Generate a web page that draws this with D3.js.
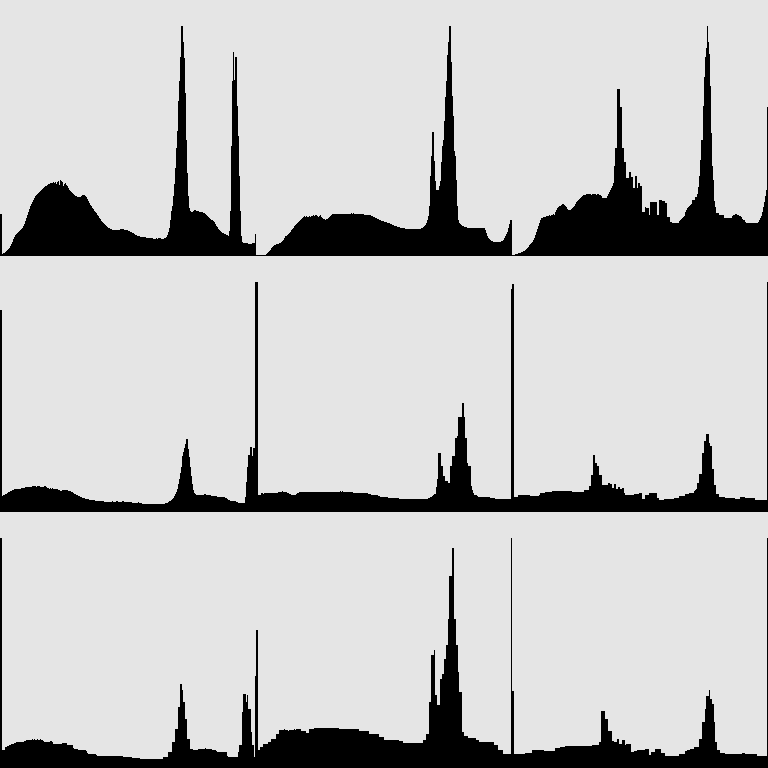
<!DOCTYPE html>
<html>
<head>
<meta charset="utf-8">
<script src="https://cdn.jsdelivr.net/npm/d3@7/dist/d3.min.js"></script>
<style>
html,body{margin:0;padding:0;background:#e5e5e5;}
svg{display:block;}
</style>
</head>
<body>
<svg id="chart" width="768" height="768"></svg>
<script>
// Relative histogram counts, 256 intensity bins per panel
const hist_r0c0 = [
42,42,2,3,3,4,5,6,7,8,
10,12,14,17,19,21,22,23,24,25,
26,27,28,30,32,35,38,41,44,47,
50,52,54,56,58,60,61,62,63,64,
65,66,67,68,69,70,70,71,72,72,
73,73,73,74,73,74,72,74,75,71,
76,75,74,70,72,73,71,70,68,66,
65,64,63,62,61,60,60,59,59,59,
59,60,61,61,61,60,59,57,55,53,
51,50,48,47,45,44,43,41,40,38,
37,35,34,33,32,31,30,29,28,28,
27,27,26,26,26,26,26,26,26,26,
27,27,27,27,26,26,26,26,25,25,
24,24,23,23,22,21,21,20,20,20,
19,19,19,19,19,19,18,18,18,18,
18,18,18,17,17,17,18,17,18,18,
18,17,17,17,18,18,19,21,24,28,
36,45,50,60,72,88,108,125,155,175,
200,231,231,215,199,163,116,83,60,48,
45,44,44,45,46,46,45,45,45,44,
44,44,44,43,43,42,41,40,39,38,
37,36,36,35,34,32,30,29,27,26,
25,24,23,23,22,22,21,21,20,25,
45,110,175,205,176,200,200,150,120,80,
45,20,14,13,13,13,13,13,12,12,
12,12,13,13,13,22];

const hist_r0c1 = [
1,1,1,1,1,1,1,1,1,1,
2,3,4,5,6,8,9,10,11,11,
12,12,12,13,13,14,15,16,18,20,
20,21,22,23,24,26,27,28,30,31,
32,33,34,35,36,37,38,39,40,39,
40,39,39,40,39,40,40,41,40,41,
41,40,39,40,41,39,38,37,37,36,
37,37,38,39,40,41,42,42,42,42,
42,42,42,42,42,42,42,42,42,42,
42,42,42,42,42,43,42,43,42,42,
42,42,42,42,42,42,42,42,41,41,
41,41,41,41,41,40,40,39,39,38,
38,37,37,36,36,35,35,35,34,34,
34,33,33,33,32,32,31,31,30,30,
30,29,29,29,28,28,28,28,28,27,
27,27,27,27,27,27,27,27,27,27,
27,27,27,27,27,28,28,29,30,31,
33,36,40,50,80,100,124,124,95,75,
66,66,66,70,75,94,110,116,135,159,
175,202,215,231,231,195,160,140,105,100,
76,50,36,33,32,31,30,30,29,29,
29,28,28,28,28,28,28,28,28,28,
28,28,28,28,28,28,28,28,28,26,
23,20,18,17,16,15,15,14,14,14,
14,14,14,14,14,15,15,16,18,20,
22,24,28,32,36,36];

const hist_r0c2 = [
1,1,1,2,2,2,3,3,3,4,
4,5,5,6,7,8,9,11,12,13,
14,16,18,21,24,27,30,33,36,38,
38,39,39,39,40,40,40,41,40,41,
41,42,41,44,46,48,49,50,50,51,
52,52,51,50,49,47,46,46,46,47,
48,49,50,52,54,55,56,57,58,59,
60,61,61,61,62,62,62,62,62,61,
62,62,62,62,61,62,62,61,61,60,
58,58,58,58,58,60,62,64,66,68,
70,73,90,108,108,167,167,167,149,149,
108,108,94,94,78,78,78,84,84,79,
79,68,68,80,80,68,73,73,70,70,
44,44,44,49,48,48,48,41,54,54,
54,54,54,54,54,41,41,56,56,56,
55,55,55,53,53,39,39,39,34,34,
33,33,33,33,33,33,33,35,36,37,
38,39,40,44,46,48,49,50,51,52,
56,56,56,59,59,62,69,80,96,116,
116,150,179,200,209,231,215,203,170,123,
90,76,55,49,43,43,43,41,41,41,
41,41,38,38,38,38,38,38,38,38,
40,41,41,42,42,41,41,40,40,39,
37,36,36,34,33,33,33,33,33,33,
33,33,33,33,33,33,34,36,38,40,
44,49,54,60,66,149];

const hist_r1c0 = [
203,203,16,17,17,18,18,19,20,20,
21,21,22,22,23,23,23,23,23,23,
23,24,24,24,24,25,25,25,25,25,
25,25,26,26,26,26,25,26,26,26,
25,25,25,25,26,26,25,24,24,23,
24,23,24,23,23,23,23,23,22,22,
21,21,22,22,22,22,22,22,21,21,
21,20,20,19,18,18,17,17,16,16,
15,15,14,14,14,13,13,13,13,12,
12,12,12,12,12,11,11,11,11,11,
11,11,11,11,10,10,10,10,10,10,
10,10,11,10,10,10,11,11,10,10,
10,10,11,11,10,10,10,10,10,10,
10,10,9,9,9,9,9,9,10,9,
9,9,8,8,8,8,8,8,8,8,
8,8,8,8,8,8,8,8,8,8,
8,8,8,8,8,9,9,9,10,11,
11,12,13,14,16,18,20,23,28,33,
39,45,56,60,64,68,73,73,63,55,
45,36,28,22,19,18,17,17,17,17,
17,17,17,17,18,18,17,17,17,17,
17,16,16,16,16,16,16,15,15,15,
15,15,15,15,15,14,14,13,12,12,
11,11,11,11,11,11,10,10,9,9,
9,9,9,9,9,15,30,45,57,57,
65,65,56,64,64,231];

const hist_r1c1 = [
231,231,17,17,17,19,19,18,19,19,
19,19,19,19,19,19,19,19,19,19,
19,19,20,20,20,20,21,20,20,20,
20,19,19,18,18,17,17,17,17,17,
18,19,19,20,20,20,20,20,20,20,
20,20,20,20,20,20,20,20,20,20,
20,20,20,20,20,20,20,20,20,20,
20,20,20,20,20,20,20,20,20,20,
20,20,20,20,21,20,21,20,20,20,
20,20,20,20,20,20,20,19,19,19,
19,19,19,19,19,19,19,19,19,19,
19,19,18,18,18,17,17,17,17,17,
17,17,16,16,15,15,15,15,15,15,
15,15,14,14,14,14,14,14,14,14,
14,14,14,13,13,13,13,13,13,13,
13,13,13,13,13,13,13,13,13,13,
13,13,13,13,13,13,13,13,13,13,
13,13,14,14,15,15,16,17,18,18,
25,33,59,59,59,46,46,36,36,31,
31,31,29,29,46,46,56,56,56,74,
74,76,95,95,95,95,109,109,95,74,
74,49,46,46,46,26,22,19,17,17,
17,16,15,15,15,15,15,15,15,15,
15,15,15,15,14,14,14,14,14,13,
13,13,13,13,13,13,13,13,13,13,
13,13,13,13,13,224];

const hist_r1c2 = [
229,229,15,15,15,15,17,17,17,17,
17,17,17,17,17,17,17,17,16,16,
16,16,16,16,16,16,16,17,19,19,
19,19,19,20,20,20,20,20,20,20,
21,21,21,21,21,21,21,21,21,21,
21,21,21,21,21,21,21,21,21,21,
20,20,20,20,20,20,20,20,20,20,
20,20,22,22,22,22,22,26,26,37,
37,57,57,49,49,46,46,37,37,37,
27,27,27,27,27,27,29,29,28,28,
24,24,28,28,23,23,25,25,23,23,
24,24,19,17,17,17,17,17,17,17,
17,17,18,18,18,18,18,19,19,19,
13,13,13,17,17,17,17,19,19,19,
19,19,19,19,19,14,14,12,12,12,
12,12,13,13,13,13,13,13,13,13,
13,13,14,14,14,14,14,16,16,16,
16,16,16,18,18,18,18,19,19,19,
19,19,21,22,23,29,29,38,38,38,
59,59,71,71,78,78,78,69,66,66,
43,43,27,27,18,18,18,15,15,15,
15,15,15,14,14,14,14,14,14,14,
14,14,14,13,13,13,13,13,15,15,
15,15,15,14,14,14,14,14,14,14,
14,14,14,12,12,12,12,12,12,12,
12,12,12,12,12,231];

const hist_r2c0 = [
231,231,18,18,18,21,21,22,22,23,
23,24,24,24,25,25,26,26,26,26,
26,26,26,26,27,27,28,28,28,28,
28,28,29,28,29,28,28,29,28,28,
29,28,28,27,26,26,26,26,26,26,
27,27,26,24,24,24,24,24,24,24,
24,24,25,25,25,25,25,23,23,23,
23,23,23,20,19,19,19,19,18,18,
18,18,18,18,18,18,17,15,14,14,
14,14,14,14,14,14,13,12,12,12,
12,12,12,12,12,12,12,12,12,12,
12,12,12,12,12,12,12,12,12,12,
12,12,12,11,11,11,11,11,11,11,
11,11,10,10,10,10,10,10,10,10,
9,9,9,9,9,9,9,9,9,9,
9,9,9,9,9,9,9,9,9,9,
9,9,9,11,11,11,11,11,16,16,
16,16,26,26,26,39,39,39,61,61,
84,84,78,66,66,49,49,29,29,29,
19,19,19,18,18,18,18,18,19,19,
19,19,19,19,19,20,19,19,19,19,
19,19,18,18,18,18,17,16,16,16,
16,16,16,16,16,16,16,12,11,11,
11,11,11,11,11,11,11,11,16,23,
23,23,56,74,74,74,66,73,59,59,
59,36,23,23,11,92];

const hist_r2c1 = [
138,138,18,18,21,21,21,24,24,24,
24,24,26,26,26,29,29,29,29,29,
34,34,34,38,38,38,38,38,39,38,
38,38,37,38,38,38,38,38,39,38,
39,39,39,39,39,37,37,37,37,37,
35,35,35,39,39,39,39,39,40,40,
40,40,40,40,40,40,40,40,40,40,
40,40,40,40,40,40,40,40,40,40,
40,40,40,39,39,39,39,39,39,39,
39,39,39,39,39,39,39,39,39,39,
39,39,39,37,37,37,37,37,37,37,
37,37,37,34,34,34,34,34,34,34,
34,34,34,31,31,31,31,31,28,28,
28,28,28,28,28,28,28,28,28,28,
28,28,28,27,27,27,27,25,25,25,
25,25,25,25,25,25,25,25,25,25,
25,25,25,25,25,25,25,28,28,28,
34,34,34,66,66,113,113,113,118,73,
73,63,63,63,89,89,94,94,109,109,
123,123,149,193,193,193,221,221,149,149,
123,123,96,76,76,76,36,36,32,32,
32,32,30,30,30,30,30,30,30,30,
28,28,28,26,26,26,26,26,26,26,
26,26,26,26,26,26,26,26,23,23,
23,23,18,18,18,18,18,14,14,14,
14,14,14,14,14,231];

const hist_r2c2 = [
77,77,14,14,14,14,14,14,14,14,
14,14,14,15,15,15,15,15,15,15,
18,18,18,18,18,18,18,18,18,18,
18,18,17,17,17,17,17,17,17,17,
17,17,17,20,20,20,20,20,21,21,
21,21,21,22,22,22,22,22,22,22,
22,22,22,22,22,22,22,22,22,22,
22,22,22,22,22,22,22,22,22,22,
23,23,23,23,23,23,23,26,26,57,
57,57,57,49,49,49,37,37,37,37,
27,27,26,26,26,29,29,24,24,24,
28,28,28,23,24,24,24,24,24,16,
16,16,17,17,17,18,18,18,18,18,
18,18,18,19,19,19,19,13,13,16,
16,16,16,19,19,19,19,19,19,15,
15,15,15,12,12,12,12,12,12,12,
12,12,12,12,12,12,12,14,14,14,
14,14,14,17,17,18,18,18,19,19,
19,19,21,21,21,21,21,29,29,29,
46,46,46,59,72,72,72,78,69,69,
64,64,46,26,26,18,18,18,15,15,
15,15,15,14,14,14,14,14,14,14,
14,14,14,14,14,14,14,14,14,14,
15,15,15,14,14,14,14,14,14,14,
14,14,14,14,14,12,12,12,12,12,
12,12,12,12,12,231];

const panels = [
  [hist_r0c0, hist_r0c1, hist_r0c2],
  [hist_r1c0, hist_r1c1, hist_r1c2],
  [hist_r2c0, hist_r2c1, hist_r2c2]
];

const W = 768, H = 768, PW = 256, PH = 256;
const svg = d3.select("#chart");
svg.append("rect").attr("width", W).attr("height", H).attr("fill", "#e5e5e5");

const x = d3.scaleLinear().domain([0, 256]).range([0, PW]);

panels.forEach((row, r) => {
  row.forEach((vals, c) => {
    const y = d3.scaleLinear()
      .domain([0, d3.max(vals)])
      .range([PH, PH - 0.9 * PH]);
    const g = svg.append("g")
      .attr("transform", `translate(${c * PW},${r * PH})`);
    g.selectAll("rect")
      .data(vals)
      .join("rect")
      .attr("x", (d, i) => x(i))
      .attr("width", x(1) - x(0))
      .attr("y", d => Math.round(y(d)))
      .attr("height", d => PH - Math.round(y(d)))
      .attr("fill", "#000")
      .attr("shape-rendering", "crispEdges");
  });
});
</script>
</body>
</html>
